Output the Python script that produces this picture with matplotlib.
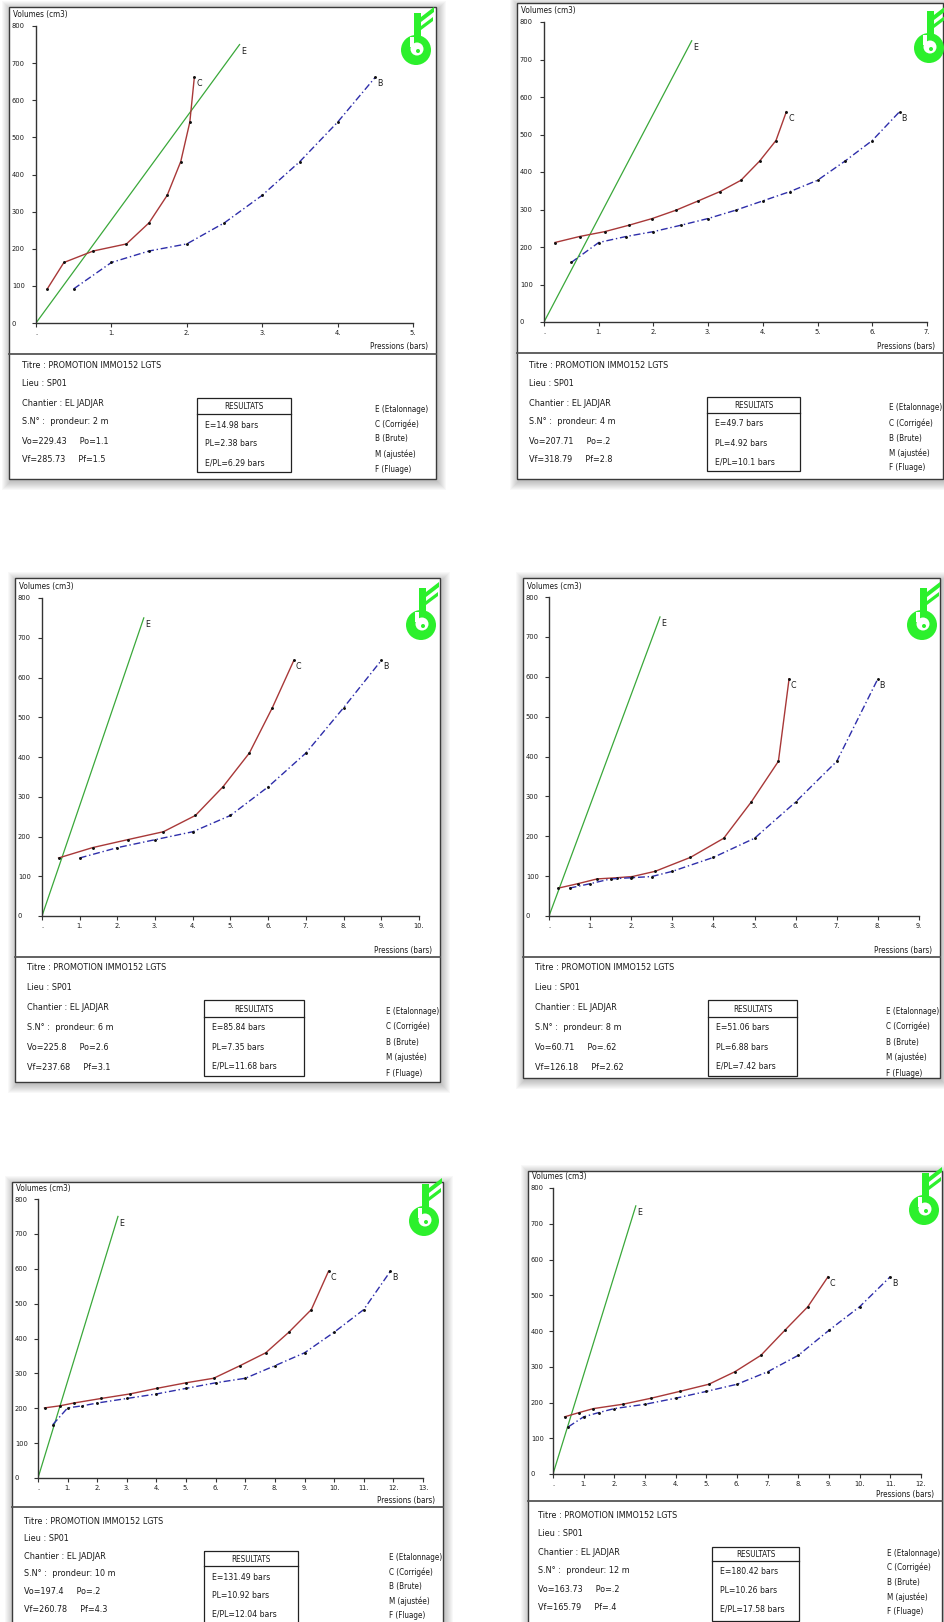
import matplotlib
matplotlib.use('Agg')
import matplotlib.pyplot as plt
from matplotlib.patches import Rectangle, Circle, Polygon
from matplotlib import font_manager as fm

W, H = 945, 1622

# ---------------- data ----------------
E_X = [0.0, 2.7]
E_V = [0, 750]

P1_B_X = [0.5, 1.0, 1.5, 2.0, 2.5, 3.0, 3.5, 4.0, 4.5]
P1_B_V = [92, 163, 194, 213, 270, 344, 435, 541, 662]
P1_C_X = [0.15, 0.37, 0.76, 1.2, 1.5, 1.74, 1.92, 2.04, 2.1]
P1_C_V = [92, 163, 194, 213, 270, 344, 435, 541, 662]

P2_B_X = [0.5, 1.0, 1.5, 2.0, 2.5, 3.0, 3.5, 4.0, 4.5, 5.0, 5.5, 6.0, 6.5]
P2_B_V = [159, 212, 228, 241, 258, 276, 298, 323, 348, 378, 429, 484, 561]
P2_C_X = [0.2, 0.65, 1.11, 1.55, 1.98, 2.41, 2.82, 3.22, 3.6, 3.94, 4.24, 4.43]
P2_C_V = [212, 228, 241, 258, 276, 298, 323, 348, 378, 429, 484, 561]

P3_B_X = [1, 2, 3, 4, 5, 6, 7, 8, 9]
P3_B_V = [146, 172, 192, 212, 253, 325, 410, 524, 643]
P3_C_X = [0.44, 1.34, 2.27, 3.22, 4.07, 4.8, 5.5, 6.11, 6.68]
P3_C_V = [146, 172, 192, 212, 253, 325, 410, 524, 643]

P4_B_X = [0.5, 1.0, 1.5, 2.0, 2.5, 3.0, 4.0, 5.0, 6.0, 7.0, 8.0]
P4_B_V = [70, 81, 93, 96, 99, 112, 147, 195, 286, 388, 595]
P4_C_X = [0.23, 0.7, 1.17, 1.65, 2.03, 2.58, 3.44, 4.25, 4.92, 5.58, 5.84]
P4_C_V = [70, 81, 93, 96, 99, 112, 147, 195, 286, 388, 595]

P5_B_X = [0.5, 1, 1.5, 2, 3, 4, 5, 6, 7, 8, 9, 10, 11, 11.9]
P5_B_V = [153, 201, 207, 215, 228, 241, 257, 273, 286, 322, 359, 418, 483, 593]
P5_C_X = [0.22, 0.74, 1.21, 2.13, 3.1, 4.01, 5.0, 5.93, 6.82, 7.69, 8.47, 9.23, 9.81]
P5_C_V = [201, 207, 215, 228, 241, 257, 273, 286, 322, 359, 418, 483, 593]

P6_B_X = [0.5, 1, 1.5, 2, 3, 4, 5, 6, 7, 8, 9, 10, 11]
P6_B_V = [132, 160, 172, 183, 195, 212, 231, 251, 286, 332, 402, 468, 552]
P6_C_X = [0.38, 0.86, 1.32, 2.27, 3.2, 4.13, 5.08, 5.93, 6.78, 7.56, 8.31, 8.97]
P6_C_V = [160, 172, 183, 195, 212, 231, 251, 286, 332, 402, 468, 552]

X_MAX = [5, 7, 10, 9, 13, 12]
DEPTHS = ['2', '4', '6', '8', '10', '12']
VO = ['229.43', '207.71', '225.8', '60.71', '197.4', '163.73']
PO = ['1.1', '.2', '2.6', '.62', '.2', '.2']
VF = ['285.73', '318.79', '237.68', '126.18', '260.78', '165.79']
PF = ['1.5', '2.8', '3.1', '2.62', '4.3', '.4']
RES_E = ['14.98', '49.7', '85.84', '51.06', '131.49', '180.42']
RES_PL = ['2.38', '4.92', '7.35', '6.88', '10.92', '10.26']
RES_EPL = ['6.29', '10.1', '11.68', '7.42', '12.04', '17.58']
TITRE = 'Titre : PROMOTION IMMO152 LGTS'
LIEU = 'Lieu : SP01'
CHANTIER = 'Chantier : EL JADJAR'
LEGEND = ['E (Etalonnage)', 'C (Corrigée)', 'B (Brute)', 'M (ajustée)', 'F (Fluage)']

SERIES = [
    (P1_B_X, P1_B_V, P1_C_X, P1_C_V),
    (P2_B_X, P2_B_V, P2_C_X, P2_C_V),
    (P3_B_X, P3_B_V, P3_C_X, P3_C_V),
    (P4_B_X, P4_B_V, P4_C_X, P4_C_V),
    (P5_B_X, P5_B_V, P5_C_X, P5_C_V),
    (P6_B_X, P6_B_V, P6_C_X, P6_C_V),
]

# ---------------- layout (pixels) ----------------
LAYOUT = [
    dict(frame=(9, 7, 436, 479), D=354, tx=22, row0=11, rs=19, box=(197, 291, 44, 60, 118), rr=(71, 19),
         leg=375, lg=(55, 15), o=(36, 323), xend=413, y800=26, logo=(416, 50)),
    dict(frame=(517, 3, 943, 479), D=353, tx=529, row0=12, rs=19, box=(707, 800, 44, 60, 118), rr=(71, 19),
         leg=889, lg=(55, 15), o=(544, 322), xend=927, y800=22, logo=(929, 48)),
    dict(frame=(15, 578, 440, 1082), D=957, tx=27, row0=10, rs=20, box=(204, 304, 43, 60, 119), rr=(71, 19),
         leg=386, lg=(54, 15.5), o=(42, 916), xend=419, y800=598, logo=(421, 625)),
    dict(frame=(523, 578, 940, 1078), D=957, tx=535, row0=10, rs=20, box=(708, 797, 43, 60, 119), rr=(71, 19),
         leg=886, lg=(54, 15.5), o=(549, 916), xend=919, y800=597, logo=(922, 625)),
    dict(frame=(12, 1182, 443, 1640), D=1507, tx=24, row0=14, rs=17.6, box=(204, 298, 44, 59, 118), rr=(70, 18.5),
         leg=389, lg=(51, 14.4), o=(38, 1478), xend=423, y800=1199, logo=(424, 1221)),
    dict(frame=(528, 1171, 942, 1640), D=1501, tx=538, row0=14, rs=18.6, box=(712, 799, 46, 60, 120), rr=(71, 18.5),
         leg=887, lg=(52, 14.7), o=(553, 1474), xend=921, y800=1188, logo=(924, 1210)),
]

# ---------------- fonts ----------------
def find_narrow():
    prefs = ['liberationsansnarrow-regular', 'arialnarrow', 'arial narrow', 'dejavusanscondensed.ttf',
             'robotocondensed-regular', 'opensans_condensed', 'opensanscondensed-light']
    files = [f.fname for f in fm.fontManager.ttflist]
    for p in prefs:
        for fn in files:
            base = fn.split('/')[-1].lower()
            if p in base:
                return fn
    for f in fm.fontManager.ttflist:
        base = f.fname.split('/')[-1].lower()
        if ('narrow' in base or 'condensed' in base) and not any(
                s in base for s in ('bold', 'italic', 'oblique', 'light', 'thin', 'medium', 'black')):
            return f.fname
    return None


NARROW = find_narrow()
plt.rcParams['font.family'] = ['Liberation Sans', 'DejaVu Sans']
if NARROW:
    base_name = NARROW.split('/')[-1].lower()
    FS = 0.97 if 'liberation' in base_name or 'arial' in base_name else 0.88
else:
    FS = 0.86


def fp(size):
    if NARROW:
        return fm.FontProperties(fname=NARROW, size=size * FS)
    return fm.FontProperties(family=['Liberation Sans', 'DejaVu Sans'], size=size * FS)


fig = plt.figure(figsize=(W / 100, H / 100), dpi=100)
fig.patch.set_facecolor('white')
bg = fig.add_axes([0, 0, 1, 1], zorder=0)
bg.set_xlim(0, W)
bg.set_ylim(H, 0)
bg.axis('off')

GREEN_LOGO = '#2cf02c'
TXT = '#1a1a1a'


def draw_logo(cx, cy):
    bg.add_patch(Circle((cx, cy), 15, facecolor=GREEN_LOGO, edgecolor='none', zorder=5))
    bg.add_patch(Circle((cx + 1, cy - 1), 6.5, facecolor='white', edgecolor='none', zorder=6))
    bg.add_patch(Rectangle((cx - 6, cy - 13), 4, 10, facecolor='white', edgecolor='none', zorder=6))
    bg.add_patch(Rectangle((cx - 2, cy - 37), 7, 28, facecolor=GREEN_LOGO, edgecolor='none', zorder=7))
    bg.add_patch(Circle((cx + 2, cy + 1), 2, facecolor=GREEN_LOGO, edgecolor='none', zorder=7))
    bg.add_patch(Polygon([(cx + 5, cy - 33), (cx + 18, cy - 43), (cx + 18, cy - 38), (cx + 5, cy - 28)],
                         facecolor=GREEN_LOGO, edgecolor='none', zorder=7))
    bg.add_patch(Polygon([(cx + 5, cy - 24), (cx + 17, cy - 33), (cx + 17, cy - 29), (cx + 5, cy - 20)],
                         facecolor=GREEN_LOGO, edgecolor='none', zorder=7))


def btext(x, y, s, size, ha='left'):
    bg.text(x, y, s, ha=ha, va='center', fontproperties=fp(size), color=TXT, zorder=4)


for i, lay in enumerate(LAYOUT):
    L, T, R, B = lay['frame']
    D = lay['D']
    # shadow
    for k in range(1, 10):
        bg.add_patch(Rectangle((L - k + 2, T - k + 3), R - L + 2 * k - 1, B - T + 2 * k - 1,
                               facecolor='black', edgecolor='none', alpha=0.028, zorder=1))
    bg.add_patch(Rectangle((L, T), R - L, B - T, facecolor='white', edgecolor='#3a3a3a',
                           lw=1.0, zorder=2))
    bg.plot([L, R], [D, D], color='#555555', lw=1.3, zorder=3)

    # info text
    rows = [TITRE, LIEU, CHANTIER, 'S.N° :  prondeur: %s m' % DEPTHS[i],
            'Vo=%s     Po=%s' % (VO[i], PO[i]), 'Vf=%s     Pf=%s' % (VF[i], PF[i])]
    for j, s in enumerate(rows):
        btext(lay['tx'], D + lay['row0'] + j * lay['rs'], s, 7.4)
    bx0, bx1, btop, bhead, bbot = lay['box']
    bg.add_patch(Rectangle((bx0, D + btop), bx1 - bx0, bbot - btop, facecolor='none',
                           edgecolor='#222222', lw=0.9, zorder=4))
    bg.plot([bx0, bx1], [D + bhead, D + bhead], color='#222222', lw=0.9, zorder=4)
    btext((bx0 + bx1) / 2, D + (btop + bhead) / 2 + 0.5, 'RESULTATS', 6.6, ha='center')
    r0, rst = lay['rr']
    for j, s in enumerate(['E=%s bars' % RES_E[i], 'PL=%s bars' % RES_PL[i], 'E/PL=%s bars' % RES_EPL[i]]):
        btext(bx0 + 8, D + r0 + j * rst, s, 7.1)
    l0, lst = lay['lg']
    for j, s in enumerate(LEGEND):
        btext(lay['leg'], D + l0 + j * lst, s, 6.5)
    btext(R - 8, D - 7, 'Pressions (bars)', 6.7, ha='right')
    btext(L + 4, lay['y800'] - 11, 'Volumes (cm3)', 6.7)
    draw_logo(*lay['logo'])

    # data axes
    ox, oy = lay['o']
    ax = fig.add_axes([ox / W, 1 - oy / H, (lay['xend'] - ox) / W, (oy - lay['y800']) / H], zorder=2)
    ax.patch.set_alpha(0)
    xmax = X_MAX[i]
    ax.set_xlim(0, xmax)
    ax.set_ylim(0, 800)
    for sp in ('top', 'right'):
        ax.spines[sp].set_visible(False)
    for sp in ('left', 'bottom'):
        ax.spines[sp].set_color('#333333')
        ax.spines[sp].set_linewidth(1.0)
    ax.set_xticks(range(0, xmax + 1))
    ax.set_xticklabels(['.'] + ['%d.' % k for k in range(1, xmax + 1)])
    ax.set_yticks(range(0, 801, 100))
    ax.set_yticklabels([str(v) for v in range(0, 801, 100)])
    padpx = ox - (L + 4) - 3
    ax.tick_params(axis='y', direction='out', length=3, width=0.8, color='#333333',
                   pad=padpx * 0.72, labelcolor=TXT)
    ax.tick_params(axis='x', direction='out', length=3, width=0.8, color='#333333',
                   pad=2, labelcolor=TXT)
    for lab in ax.get_yticklabels():
        lab.set_horizontalalignment('left')
        lab.set_fontproperties(fp(6.0))
    for lab in ax.get_xticklabels():
        lab.set_fontproperties(fp(6.0))

    bxs, bvs, cxs, cvs = SERIES[i]
    ax.plot(E_X, E_V, color='#3aa83a', lw=0.9)
    ax.plot(cxs, cvs, color='#a83838', lw=1.0, marker='.', ms=2.2, mfc='#111111', mec='#111111')
    ax.plot(bxs, bvs, color='#2e2eaa', lw=1.0, ls=(0, (5, 2, 1, 2)), marker='.', ms=2.2,
            mfc='#111111', mec='#111111')
    for (xs, vs, lab) in ((E_X, E_V, 'E'), (cxs, cvs, 'C'), (bxs, bvs, 'B')):
        ax.annotate(lab, (xs[-1], vs[-1]), xytext=(1.2, -1.5), textcoords='offset points',
                    ha='left', va='top', fontproperties=fp(7.2), color=TXT, annotation_clip=False)

fig.savefig('out.png', dpi=100, facecolor='white')
